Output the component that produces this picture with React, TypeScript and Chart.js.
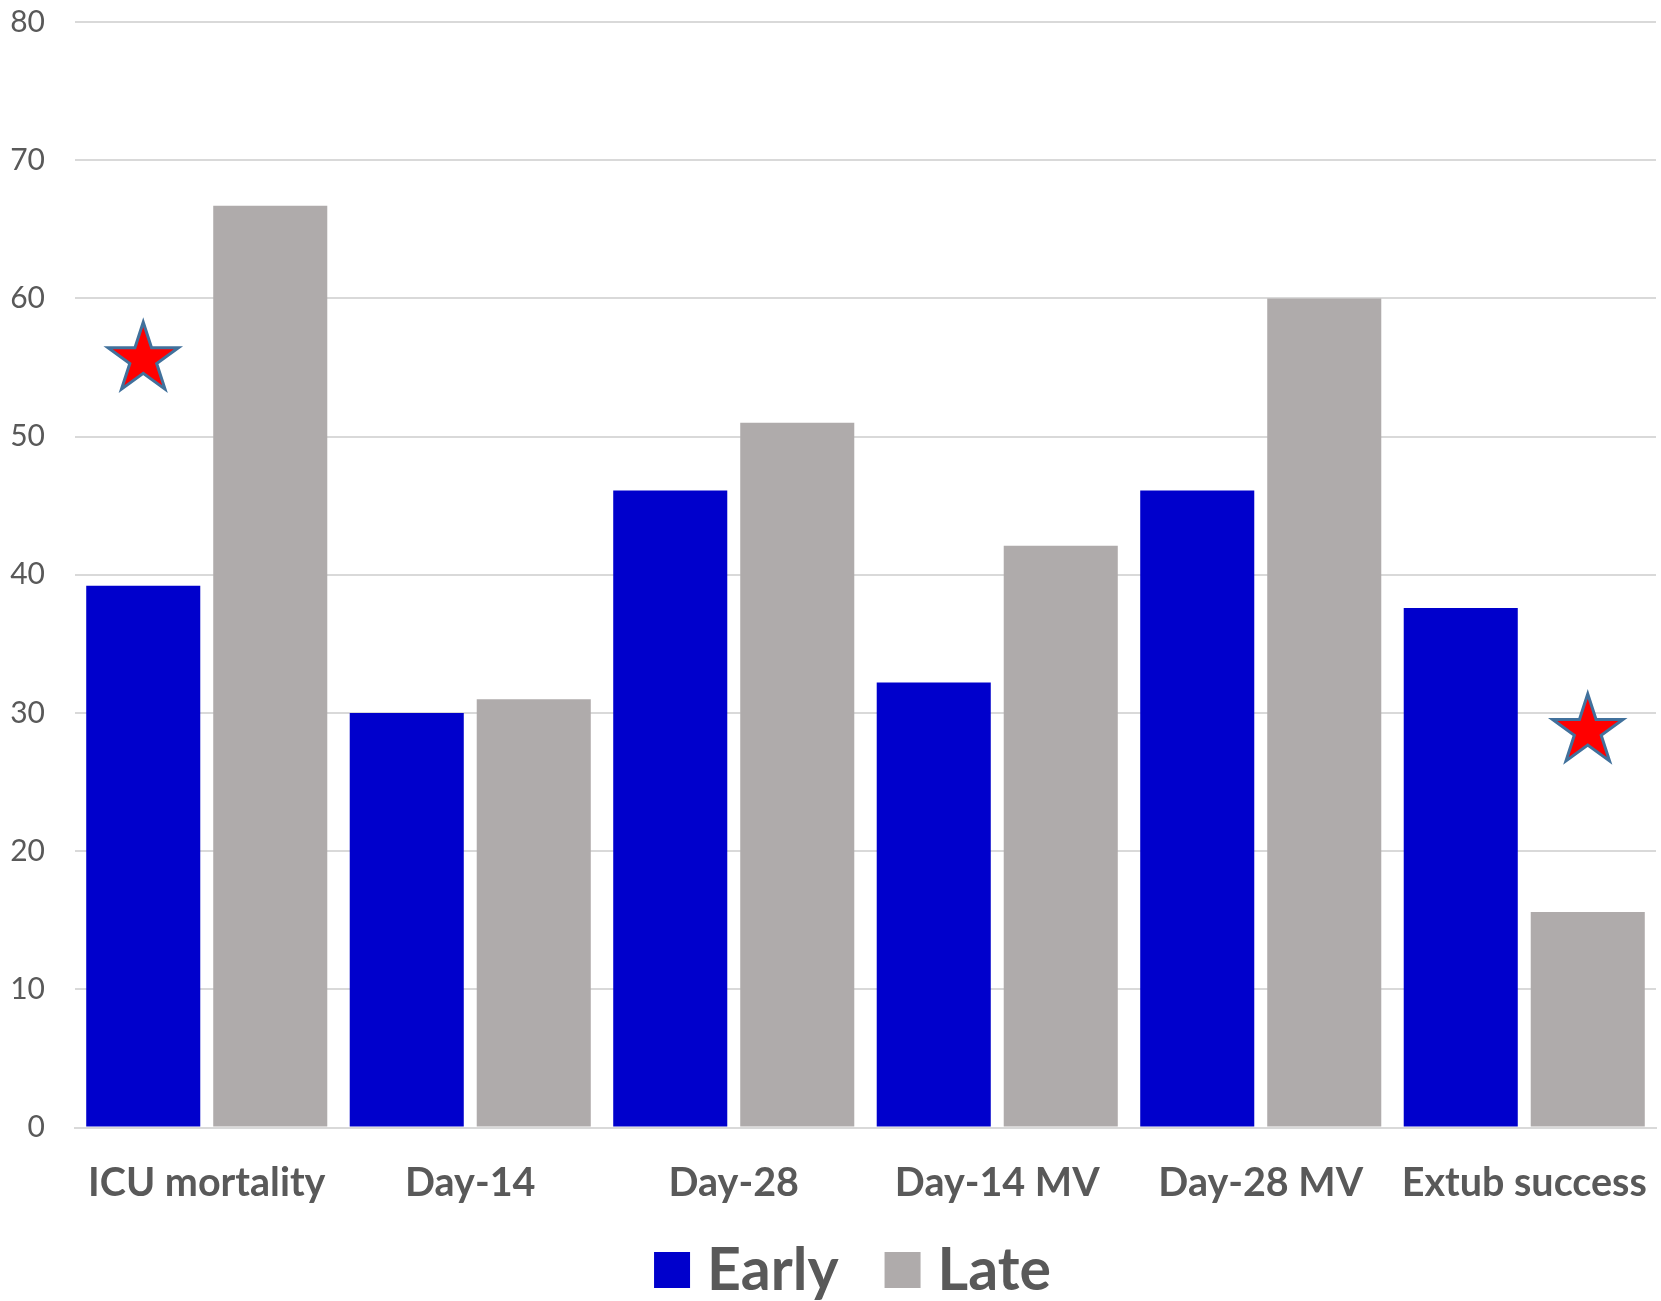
import { useEffect, useRef } from "react"
import { Chart, registerables } from "chart.js"

Chart.register(...registerables)

const categories = ["ICU mortality", "Day-14", "Day-28", "Day-14 MV", "Day-28 MV", "Extub success"]
const earlyValues = [39.2, 30, 46.1, 32.2, 46.1, 37.6]
const lateValues = [66.7, 31, 51, 42.1, 60, 15.6]
// significance stars: which bar they sit over and at what height
const starCategory = [0, 5]
const starSeries = [0, 1]
const starValue = [55.6, 28.7]

const textColor = "#595959"
const gridColor = "#D9D9D9"

function drawStar(ctx: CanvasRenderingContext2D, cx: number, cy: number, r: number) {
  const inner = r * 0.382
  ctx.beginPath()
  for (let i = 0; i < 10; i++) {
    const rad = i % 2 === 0 ? r : inner
    const a = -Math.PI / 2 + (i * Math.PI) / 5
    const x = cx + rad * Math.cos(a)
    const y = cy + rad * Math.sin(a)
    if (i === 0) ctx.moveTo(x, y)
    else ctx.lineTo(x, y)
  }
  ctx.closePath()
  ctx.fillStyle = "#FF0000"
  ctx.fill()
  ctx.lineWidth = 3
  ctx.strokeStyle = "#41719C"
  ctx.stroke()
}

const starPlugin = {
  id: "stars",
  afterDatasetsDraw(chart: Chart) {
    const ctx = chart.ctx
    const yScale = chart.scales.y
    ctx.save()
    for (let i = 0; i < starCategory.length; i++) {
      const meta = chart.getDatasetMeta(starSeries[i])
      const bar = meta.data[starCategory[i]] as any
      if (!bar) continue
      drawStar(ctx, bar.x, yScale.getPixelForValue(starValue[i]), 37)
    }
    ctx.restore()
  },
}

// legend drawn by hand so the box/text gaps match the original
const legendPlugin = {
  id: "bottomLegend",
  afterDraw(chart: Chart) {
    const ctx = chart.ctx
    const box = 36
    const boxGap = 17
    const itemGap = 46
    ctx.save()
    ctx.font = "bold 59px Lato"
    ctx.textBaseline = "middle"
    const items = chart.data.datasets.map((ds) => ({
      label: ds.label as string,
      color: ds.backgroundColor as string,
      w: ctx.measureText(ds.label as string).width,
    }))
    let total = 0
    items.forEach((it, i) => {
      total += box + boxGap + it.w + (i < items.length - 1 ? itemGap : 0)
    })
    const area = chart.chartArea
    let x = (area.left + area.right) / 2 - 13 - total / 2
    const cy = chart.height - 31
    items.forEach((it) => {
      ctx.fillStyle = it.color
      ctx.fillRect(x, cy - box / 2, box, box)
      x += box + boxGap
      ctx.fillStyle = textColor
      ctx.fillText(it.label, x, cy + 1)
      x += it.w + itemGap
    })
    ctx.restore()
  },
}

// stop edge tick labels from shrinking the plot area
function noEdgePadding(scale: any) {
  scale.paddingLeft = 0
  scale.paddingRight = 0
  scale.paddingTop = 0
  scale.paddingBottom = 0
}

export default function App() {
  const chartRef = useRef<HTMLCanvasElement>(null)
  const chartInstance = useRef<Chart | null>(null)

  useEffect(() => {
    document.body.style.margin = "0"
    if (!chartRef.current) return
    if (chartInstance.current) chartInstance.current.destroy()
    const ctx = chartRef.current.getContext("2d")
    if (!ctx) return

    chartInstance.current = new Chart(ctx, {
      type: "bar",
      data: {
        labels: categories,
        datasets: [
          {
            label: "Early",
            data: earlyValues,
            backgroundColor: "#0000CC",
            categoryPercentage: 0.964,
            barPercentage: 0.898,
          },
          {
            label: "Late",
            data: lateValues,
            backgroundColor: "#AFABAB",
            categoryPercentage: 0.964,
            barPercentage: 0.898,
          },
        ],
      },
      options: {
        animation: false,
        responsive: true,
        maintainAspectRatio: false,
        layout: { padding: { top: 22, right: 5, left: 0, bottom: 62 } },
        scales: {
          x: {
            grid: { display: false, drawTicks: false },
            border: { color: gridColor, width: 2 },
            afterFit: noEdgePadding,
            ticks: {
              color: textColor,
              padding: 32,
              maxRotation: 0,
              font: { family: "Lato", size: 39.5, weight: "bold" },
            },
          },
          y: {
            min: 0,
            max: 80,
            afterFit: (scale: any) => {
              scale.width = 75
              noEdgePadding(scale)
            },
            ticks: {
              stepSize: 10,
              color: textColor,
              padding: 30,
              font: { family: "Lato", size: 30 },
            },
            grid: { color: gridColor, lineWidth: 2, drawTicks: false },
            border: { display: false },
          },
        },
        plugins: {
          legend: { display: false },
          tooltip: { enabled: false },
        },
      },
      plugins: [starPlugin, legendPlugin],
    })

    return () => {
      if (chartInstance.current) {
        chartInstance.current.destroy()
        chartInstance.current = null
      }
    }
  }, [])

  return (
    <div style={{ width: 1661, height: 1301, position: "relative", background: "#fff" }}>
      <canvas ref={chartRef} />
    </div>
  )
}
